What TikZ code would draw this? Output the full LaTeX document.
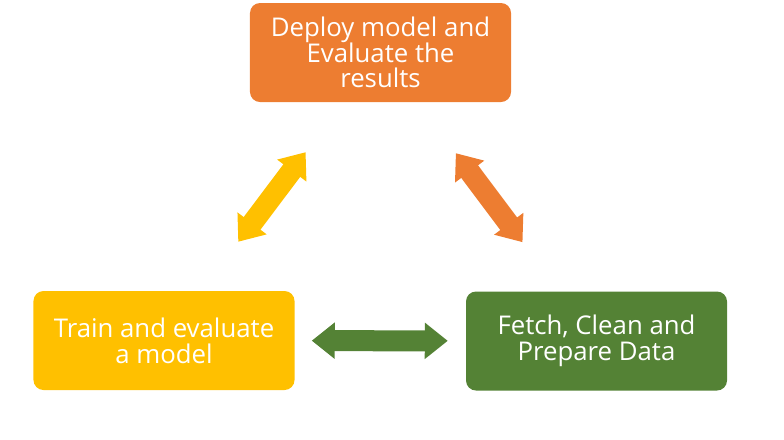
\documentclass[tikz,border=0pt]{standalone}
\usepackage{fontspec}
\setmainfont{Open Sans}
\usetikzlibrary{arrows.meta}
\definecolor{deployorange}{HTML}{ED7D31}
\definecolor{trainyellow}{HTML}{FFC000}
\definecolor{fetchgreen}{HTML}{548235}
\begin{document}
\begin{tikzpicture}[x=0.03cm,y=-0.03cm,
        stagebox/.style={rounded corners=0.3cm, minimum width=7.83cm, minimum height=2.97cm,
                text=white, align=center, font=\fontsize{22}{22}\selectfont},
        twoway/.style={line width=0.63cm,
                {Triangle[length=0.69cm,width=1.05cm]}-{Triangle[length=0.69cm,width=1.05cm]}}]
        \useasboundingbox (0,0) rectangle (784,439);
        \node[stagebox, fill=deployorange] (deploy) at (380.5,52.5) {Deploy model and\\Evaluate the\\results};
        \node[stagebox, fill=trainyellow] (train) at (164,340.5) {Train and evaluate\\a model};
        \node[stagebox, fill=fetchgreen] (fetch) at (596.5,341) {Fetch, Clean and\\Prepare Data};
        \draw[twoway, trainyellow, shorten <=1.84cm, shorten >=1.875cm] (train) -- (deploy);
        \draw[twoway, deployorange, shorten <=1.91cm, shorten >=1.84cm] (deploy) -- (fetch);
        \draw[twoway, fetchgreen, shorten <=0.51cm, shorten >=0.54cm] (train) -- (fetch);
\end{tikzpicture}
\end{document}
